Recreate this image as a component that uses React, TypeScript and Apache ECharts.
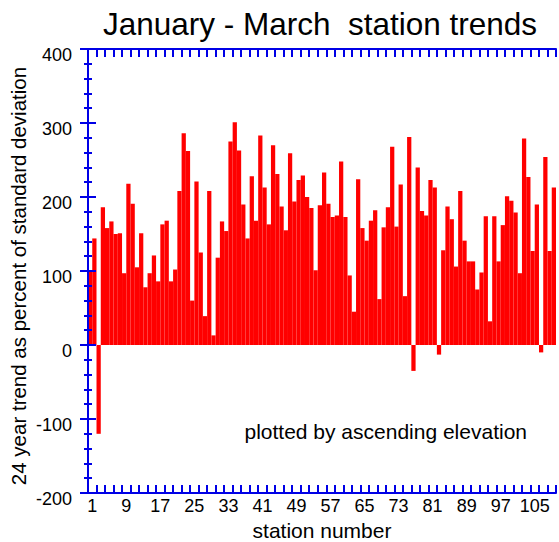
import React, { useEffect, useRef } from "react";
import * as echarts from "echarts";

// Station numbers (categories) and 24-year trend values (% of std deviation)
const stations: string[] = Array.from({ length: 110 }, (_, i) => String(i + 1));
const trendValues: number[] = [
  100, 144, -120, 186, 158, 167, 150, 151, 97, 218,
  191, 105, 151, 78, 97, 121, 86, 163, 168, 86,
  102, 208, 286, 262, 60, 221, 125, 39, 208, 13,
  118, 167, 154, 275, 301, 263, 190, 144, 228, 168,
  283, 213, 163, 270, 231, 187, 155, 259, 194, 223,
  229, 200, 185, 101, 189, 233, 191, 173, 175, 248,
  173, 94, 45, 224, 158, 141, 168, 182, 62, 159,
  186, 268, 160, 217, 66, 281, -35, 240, 181, 175,
  223, 213, -13, 128, 187, 170, 106, 208, 141, 113,
  113, 75, 98, 174, 32, 174, 113, 162, 201, 195,
  179, 97, 279, 227, 127, 190, -10, 254, 127, 213,
];
const xTickLabels: number[] = [1, 9, 17, 25, 33, 41, 49, 57, 65, 73, 81, 89, 97, 105];
const yTickLabels: number[] = [-200, -100, 0, 100, 200, 300, 400];

const BLUE = "#0000e6";
const RED = "#ff0000";
const FONT = "'Liberation Sans', Arial, Helvetica, sans-serif";

export default function App() {
  const ref = useRef<HTMLDivElement>(null);

  useEffect(() => {
    if (!ref.current) return;
    const chart = echarts.init(ref.current, null, { renderer: "svg" });

    const yMin = yTickLabels[0];
    const yMax = yTickLabels[yTickLabels.length - 1];
    const yStep = yTickLabels[1] - yTickLabels[0];
    const xMax = stations.length;

    const frameAxisLine = { show: true, lineStyle: { color: BLUE, width: 2 } };
    const frameTick = { show: true, inside: true, length: 8, lineStyle: { color: BLUE, width: 2 } };

    const option: any = {
      animation: false,
      grid: { left: 88, right: 1, top: 49, bottom: 49, containLabel: false },
      xAxis: [
        {
          type: "category",
          data: stations,
          position: "bottom",
          show: false,
          boundaryGap: true,
        },
        {
          type: "value",
          position: "bottom",
          min: 0,
          max: xMax,
          interval: 1,
          z: 10,
          axisLine: { show: false },
          axisTick: { show: false },
          splitLine: { show: false },
          axisLabel: {
            show: true,
            margin: 4,
            color: "#000",
            fontSize: 18,
            fontFamily: FONT,
            showMinLabel: true,
            showMaxLabel: true,
            formatter: (v: number) => (xTickLabels.indexOf(Math.round(v)) >= 0 ? String(Math.round(v)) : ""),
          },
        },
        {
          type: "value",
          position: "bottom",
          min: 0,
          max: xMax,
          interval: 2,
          z: 10,
          axisLine: frameAxisLine,
          axisTick: frameTick,
          splitLine: { show: false },
          axisLabel: { show: false },
        },
        {
          type: "value",
          position: "top",
          min: 0,
          max: xMax,
          interval: 2,
          z: 10,
          axisLine: frameAxisLine,
          axisTick: frameTick,
          splitLine: { show: false },
          axisLabel: { show: false },
        },
      ],
      yAxis: [
        {
          type: "value",
          position: "left",
          min: yMin,
          max: yMax,
          interval: yStep,
          z: 10,
          axisLine: frameAxisLine,
          axisTick: frameTick,
          minorTick: { show: true, splitNumber: 5, length: 4, lineStyle: { color: BLUE, width: 2 } },
          splitLine: { show: false },
          minorSplitLine: { show: false },
          axisLabel: {
            color: "#000",
            fontSize: 18,
            fontFamily: FONT,
            margin: 16,
            verticalAlign: "top",
            lineHeight: 12,
          },
        },
        {
          type: "value",
          position: "right",
          min: yMin,
          max: yMax,
          interval: yStep,
          z: 10,
          axisLine: frameAxisLine,
          axisTick: frameTick,
          minorTick: { show: true, splitNumber: 5, length: 4, lineStyle: { color: BLUE, width: 2 } },
          splitLine: { show: false },
          minorSplitLine: { show: false },
          axisLabel: { show: false },
        },
      ],
      series: [
        {
          type: "bar",
          xAxisIndex: 0,
          yAxisIndex: 0,
          data: trendValues,
          barCategoryGap: "0%",
          itemStyle: { color: RED },
          z: 2,
        },
      ],
      graphic: [
        {
          type: "text",
          x: 320,
          y: 24,
          style: {
            text: "January - March  station trends",
            fontSize: 31.5,
            fontFamily: FONT,
            fill: "#000",
            align: "center",
            verticalAlign: "middle",
          },
        },
        {
          type: "text",
          x: 18.5,
          y: 276,
          rotation: Math.PI / 2,
          style: {
            text: "24 year trend as percent of standard deviation",
            fontSize: 20.5,
            fontFamily: FONT,
            fill: "#000",
            align: "center",
            verticalAlign: "middle",
          },
        },
        {
          type: "text",
          x: 322,
          y: 530,
          style: {
            text: "station number",
            fontSize: 21,
            fontFamily: FONT,
            fill: "#000",
            align: "center",
            verticalAlign: "middle",
          },
        },
        {
          type: "text",
          x: 527,
          y: 431,
          style: {
            text: "plotted by ascending elevation",
            fontSize: 21,
            fontFamily: FONT,
            fill: "#000",
            align: "right",
            verticalAlign: "middle",
          },
        },
      ],
    };

    chart.setOption(option);
    return () => chart.dispose();
  }, []);

  return (
    <div
      ref={ref}
      style={{ position: "fixed", left: 0, top: 0, width: 559, height: 542, background: "#fff" }}
    />
  );
}
